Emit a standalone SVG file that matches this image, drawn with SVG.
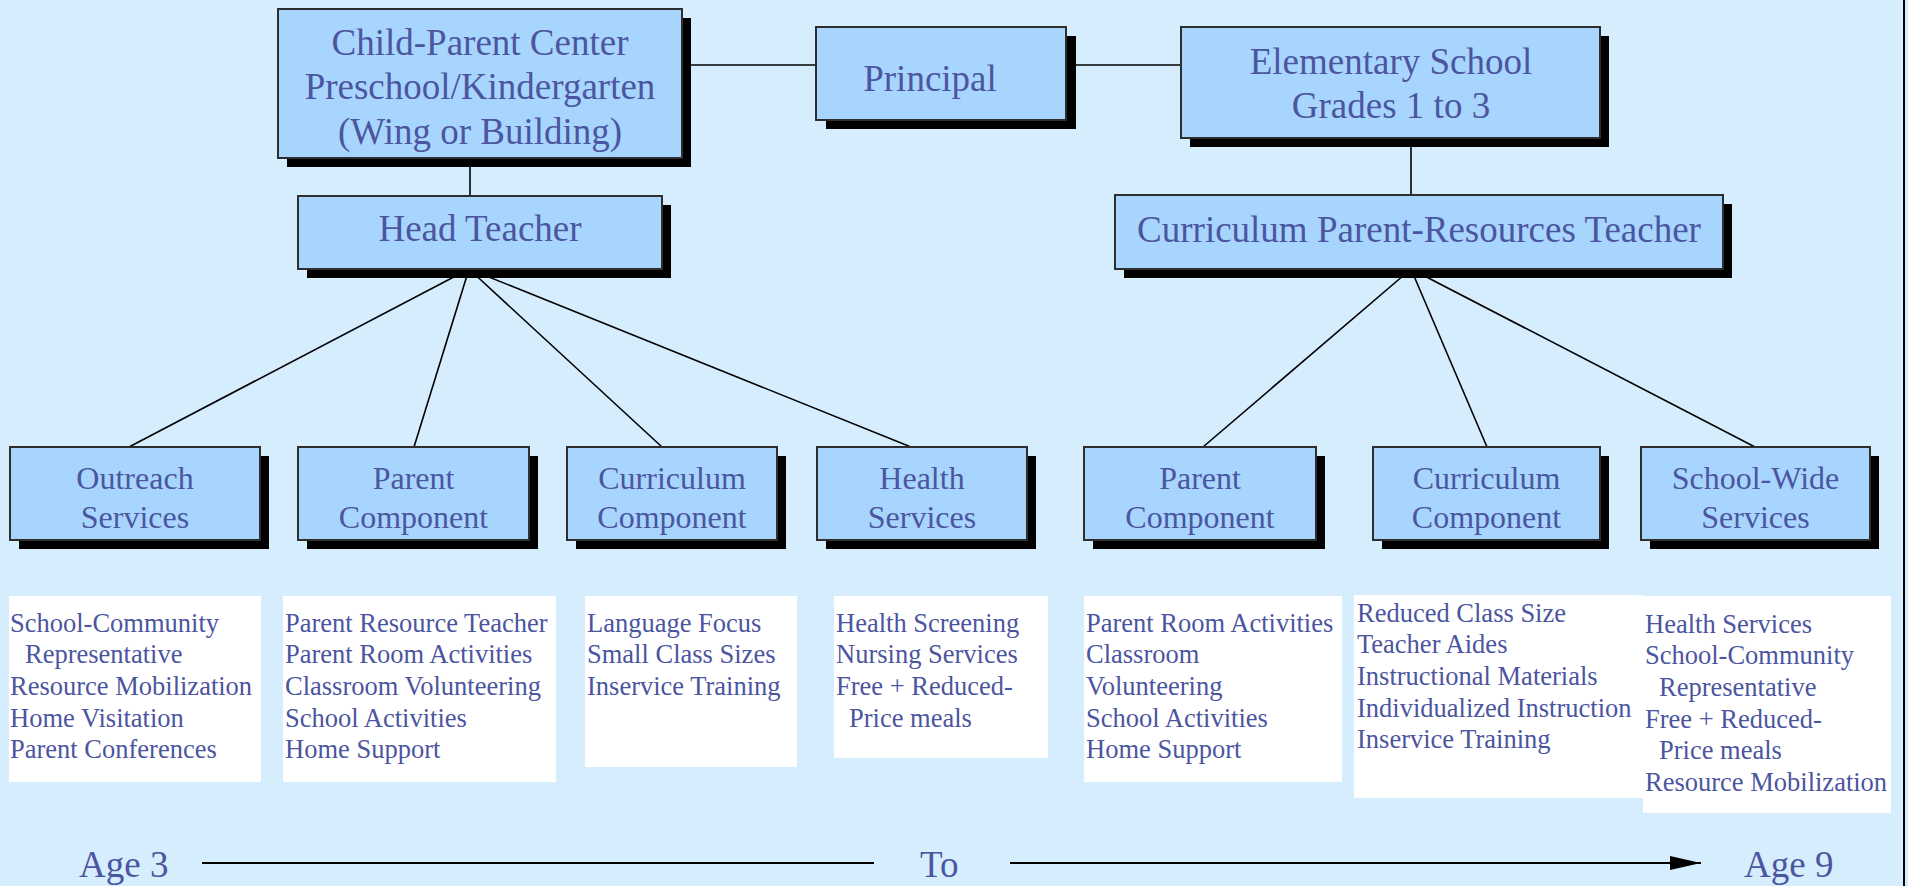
<svg xmlns="http://www.w3.org/2000/svg" width="1908" height="886" viewBox="0 0 1908 886">
<defs>
<style>
.bg{fill:#d6edfd}
.box{fill:#a8d5fd;stroke:#2e2e2e;stroke-width:2}
.sh{fill:#000}
.t{font-family:"Liberation Serif","Times New Roman",serif;fill:#4b55a0}
.t1{font-size:37px;text-anchor:middle}
.t2{font-size:32px;text-anchor:middle}
.li{font-size:26.5px}
.tl{font-size:37px}
.list{fill:#fff}
.c{stroke:#000;stroke-width:1.6;fill:none}
</style>
<marker id="arr" viewBox="0 0 31 14" refX="31" refY="7" markerWidth="31" markerHeight="14" markerUnits="userSpaceOnUse" orient="auto">
<path d="M0,0 L31,7 L0,14 Z" fill="#000"/>
</marker>
</defs>
<rect class="bg" x="0" y="0" width="1908" height="886"/>
<line x1="1904" y1="0" x2="1904" y2="886" stroke="#000" stroke-width="2"/>

<g id="connectors">
<line class="c" x1="470" y1="158" x2="470" y2="196"/>
<line class="c" x1="682" y1="65" x2="816" y2="65"/>
<line class="c" x1="1066" y1="65" x2="1181" y2="65"/>
<line class="c" x1="1411" y1="138" x2="1411" y2="195"/>
<line class="c" x1="469" y1="269" x2="129" y2="447"/>
<line class="c" x1="469" y1="269" x2="414" y2="447"/>
<line class="c" x1="469" y1="269" x2="662" y2="447"/>
<line class="c" x1="469" y1="269" x2="911" y2="447"/>
<line class="c" x1="1411" y1="269" x2="1203" y2="447"/>
<line class="c" x1="1411" y1="269" x2="1487" y2="447"/>
<line class="c" x1="1411" y1="269" x2="1755" y2="447"/>
</g>

<g id="cpc">
<rect class="sh" x="287" y="18" width="404" height="149"/>
<rect class="box" x="278" y="9" width="404" height="149"/>
<text class="t t1" x="480" y="55">Child-Parent Center</text>
<text class="t t1" x="480" y="99">Preschool/Kindergarten</text>
<text class="t t1" x="480" y="144">(Wing or Building)</text>
</g>
<g id="head-teacher">
<rect class="sh" x="307" y="205" width="364" height="73"/>
<rect class="box" x="298" y="196" width="364" height="73"/>
<text class="t t1" x="480" y="241">Head Teacher</text>
</g>
<g id="principal">
<rect class="sh" x="826" y="36" width="250" height="93"/>
<rect class="box" x="816" y="27" width="250" height="93"/>
<text class="t t1" x="930" y="91">Principal</text>
</g>
<g id="elementary">
<rect class="sh" x="1190" y="36" width="419" height="111"/>
<rect class="box" x="1181" y="27" width="419" height="111"/>
<text class="t t1" x="1391" y="74">Elementary School</text>
<text class="t t1" x="1391" y="118">Grades 1 to 3</text>
</g>
<g id="cprt">
<rect class="sh" x="1124" y="204" width="608" height="74"/>
<rect class="box" x="1115" y="195" width="608" height="74"/>
<text class="t t1" x="1419" y="242">Curriculum Parent-Resources Teacher</text>
</g>

<g id="outreach">
<rect class="sh" x="19" y="456" width="250" height="93"/>
<rect class="box" x="10" y="447" width="250" height="93"/>
<text class="t t2" x="135" y="489">Outreach</text>
<text class="t t2" x="135" y="528">Services</text>
</g>
<g id="parent-left">
<rect class="sh" x="307" y="456" width="231" height="93"/>
<rect class="box" x="298" y="447" width="231" height="93"/>
<text class="t t2" x="413.5" y="489">Parent</text>
<text class="t t2" x="413.5" y="528">Component</text>
</g>
<g id="curriculum-left">
<rect class="sh" x="576" y="456" width="210" height="93"/>
<rect class="box" x="567" y="447" width="210" height="93"/>
<text class="t t2" x="672" y="489">Curriculum</text>
<text class="t t2" x="672" y="528">Component</text>
</g>
<g id="health">
<rect class="sh" x="826" y="456" width="210" height="93"/>
<rect class="box" x="817" y="447" width="210" height="93"/>
<text class="t t2" x="922" y="489">Health</text>
<text class="t t2" x="922" y="528">Services</text>
</g>
<g id="parent-right">
<rect class="sh" x="1093" y="456" width="232" height="93"/>
<rect class="box" x="1084" y="447" width="232" height="93"/>
<text class="t t2" x="1200" y="489">Parent</text>
<text class="t t2" x="1200" y="528">Component</text>
</g>
<g id="curriculum-right">
<rect class="sh" x="1382" y="456" width="227" height="93"/>
<rect class="box" x="1373" y="447" width="227" height="93"/>
<text class="t t2" x="1486.5" y="489">Curriculum</text>
<text class="t t2" x="1486.5" y="528">Component</text>
</g>
<g id="school-wide">
<rect class="sh" x="1650" y="456" width="229" height="93"/>
<rect class="box" x="1641" y="447" width="229" height="93"/>
<text class="t t2" x="1755.5" y="489">School-Wide</text>
<text class="t t2" x="1755.5" y="528">Services</text>
</g>

<g id="list-outreach">
<rect class="list" x="9" y="596" width="252" height="186"/>
<text class="t li" x="10" y="632">School-Community</text>
<text class="t li" x="25" y="663">Representative</text>
<text class="t li" x="10" y="695">Resource Mobilization</text>
<text class="t li" x="10" y="727">Home Visitation</text>
<text class="t li" x="10" y="758">Parent Conferences</text>
</g>
<g id="list-parent-left">
<rect class="list" x="283" y="596" width="273" height="186"/>
<text class="t li" x="285" y="632">Parent Resource Teacher</text>
<text class="t li" x="285" y="663">Parent Room Activities</text>
<text class="t li" x="285" y="695">Classroom Volunteering</text>
<text class="t li" x="285" y="727">School Activities</text>
<text class="t li" x="285" y="758">Home Support</text>
</g>
<g id="list-curriculum-left">
<rect class="list" x="585" y="596" width="212" height="171"/>
<text class="t li" x="587" y="632">Language Focus</text>
<text class="t li" x="587" y="663">Small Class Sizes</text>
<text class="t li" x="587" y="695">Inservice Training</text>
</g>
<g id="list-health">
<rect class="list" x="834" y="596" width="214" height="162"/>
<text class="t li" x="836" y="632">Health Screening</text>
<text class="t li" x="836" y="663">Nursing Services</text>
<text class="t li" x="836" y="695">Free + Reduced-</text>
<text class="t li" x="849" y="727">Price meals</text>
</g>
<g id="list-parent-right">
<rect class="list" x="1084" y="596" width="258" height="186"/>
<text class="t li" x="1086" y="632">Parent Room Activities</text>
<text class="t li" x="1086" y="663">Classroom</text>
<text class="t li" x="1086" y="695">Volunteering</text>
<text class="t li" x="1086" y="727">School Activities</text>
<text class="t li" x="1086" y="758">Home Support</text>
</g>
<g id="list-curriculum-right">
<rect class="list" x="1354" y="595" width="289" height="203"/>
<text class="t li" x="1357" y="622">Reduced Class Size</text>
<text class="t li" x="1357" y="653">Teacher Aides</text>
<text class="t li" x="1357" y="685">Instructional Materials</text>
<text class="t li" x="1357" y="717">Individualized Instruction</text>
<text class="t li" x="1357" y="748">Inservice Training</text>
</g>
<g id="list-school-wide">
<rect class="list" x="1643" y="596" width="248" height="217"/>
<text class="t li" x="1645" y="633">Health Services</text>
<text class="t li" x="1645" y="664">School-Community</text>
<text class="t li" x="1659" y="696">Representative</text>
<text class="t li" x="1645" y="728">Free + Reduced-</text>
<text class="t li" x="1659" y="759">Price meals</text>
<text class="t li" x="1645" y="791">Resource Mobilization</text>
</g>

<g id="timeline">
<text class="t tl" x="79" y="877">Age 3</text>
<line x1="202" y1="863" x2="874" y2="863" stroke="#000" stroke-width="2"/>
<text class="t tl" x="920" y="877">To</text>
<line x1="1010" y1="863" x2="1701" y2="863" stroke="#000" stroke-width="2" marker-end="url(#arr)"/>
<text class="t tl" x="1744" y="877">Age 9</text>
</g>
</svg>
